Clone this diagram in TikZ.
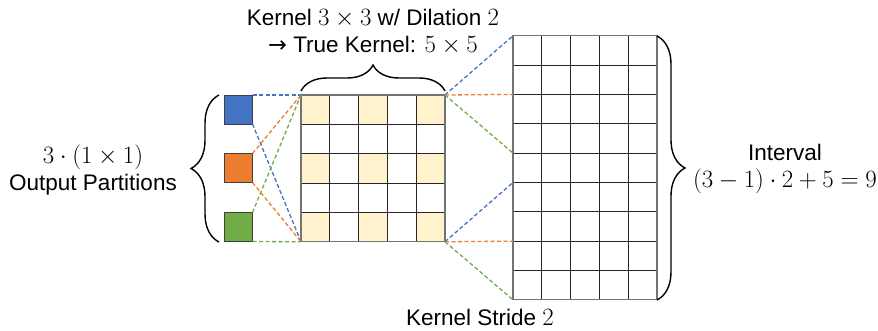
\documentclass[tikz,border=0pt]{standalone}
\usepackage{fontspec}
\setmainfont{Liberation Sans}
\newfontfamily\arrowfont{DejaVu Sans}
\newcommand\mymath[1]{{\fontsize{24}{27}\selectfont$#1$}}
\usetikzlibrary{decorations.pathreplacing}
\definecolor{cblue}{HTML}{4472C4}
\definecolor{corange}{HTML}{ED7D31}
\definecolor{cgreen}{HTML}{70AD47}
\definecolor{ccream}{HTML}{FFF2CC}
\begin{document}
\begin{tikzpicture}[x=1pt,y=-1pt,
  font=\fontsize{22.5}{27}\selectfont,
  dline/.style={line width=1.3pt, dash pattern=on 4pt off 2.5pt},
  gridline/.style={line width=0.9pt, black!85},
  outline/.style={draw=black!55, line width=1.1pt, inner sep=0pt, outer sep=0pt},
  sq/.style={draw=black!75, line width=0.9pt, minimum width=28.5pt, minimum height=29pt, inner sep=0pt, outer sep=0pt, anchor=north west},
  brc/.style={decorate, decoration={brace, amplitude=#1}, line width=1.4pt},
  lbl/.style={align=center, inner sep=0pt}]
\useasboundingbox (0,0) rectangle (878,330);
% kernel grid (5x5)
\foreach \i in {0,2,4}{\foreach \j in {0,2,4}{
  \fill[ccream] ({301+\i*28.8},{95+\j*29.35}) rectangle +(28.8,29.35);}}
\foreach \i in {1,...,4}{
  \draw[gridline] ({301+\i*28.8},95) -- ++(0,146.75);
  \draw[gridline] (301,{95+\i*29.35}) -- ++(144,0);}
\node[outline, minimum width=144pt, minimum height=146.75pt, anchor=north west] (kern) at (301,95) {};
% input grid (5x9)
\foreach \i in {1,...,4}{\draw[gridline] ({513+\i*28.8},35.7) -- ++(0,264.15);}
\foreach \j in {1,...,8}{\draw[gridline] (513,{35.7+\j*29.35}) -- ++(144,0);}
\node[outline, minimum width=144pt, minimum height=264.15pt, anchor=north west] (img) at (513,35.7) {};
\foreach \j in {2,4,5,7}{\coordinate (r\j) at (513,{35.7+\j*29.35});}
% output partitions
\node[sq, fill=cblue] (pb) at (224,95) {};
\node[sq, fill=corange] (po) at (224,153.5) {};
\node[sq, fill=cgreen] (pg) at (224,212.5) {};
% connectors left
\draw[dline, cblue] (pb.north east) -- (kern.north west);
\draw[dline, cblue] (pb.south east) -- (kern.south west);
\draw[dline, corange] (po.north east) -- (kern.north west);
\draw[dline, corange] (po.south east) -- (kern.south west);
\draw[dline, cgreen] (pg.north east) -- (kern.north west);
\draw[dline, cgreen] (pg.south east) -- (kern.south west);
% connectors right
\draw[dline, cblue] (kern.north east) -- (img.north west);
\draw[dline, corange] (kern.north east) -- (r2);
\draw[dline, cgreen] (kern.north east) -- (r4);
\draw[dline, cblue] (kern.south east) -- (r5);
\draw[dline, corange] (kern.south east) -- (r7);
\draw[dline, cgreen] (kern.south east) -- (img.south west);
% braces
\draw[brc=28] (219,242) -- (219,95);
\draw[brc=26] (301,91) -- (445,91);
\draw[brc=28] (657,36) -- (657,300);
% labels
\node[lbl] (ttop) at (373,32) {Kernel \mymath{3\times3} w/ Dilation \mymath{2}\\{\arrowfont →} True Kernel: \mymath{5\times5}};
\node[lbl] (tleft) at (93,170) {\mymath{3\cdot(1\times1)}\\Output Partitions};
\node[lbl] (tright) at (785,169) {Interval\\\mymath{(3-1)\cdot2+5=9}};
\node[lbl] (tbot) at (480,317) {Kernel Stride \mymath{2}};
\end{tikzpicture}
\end{document}
